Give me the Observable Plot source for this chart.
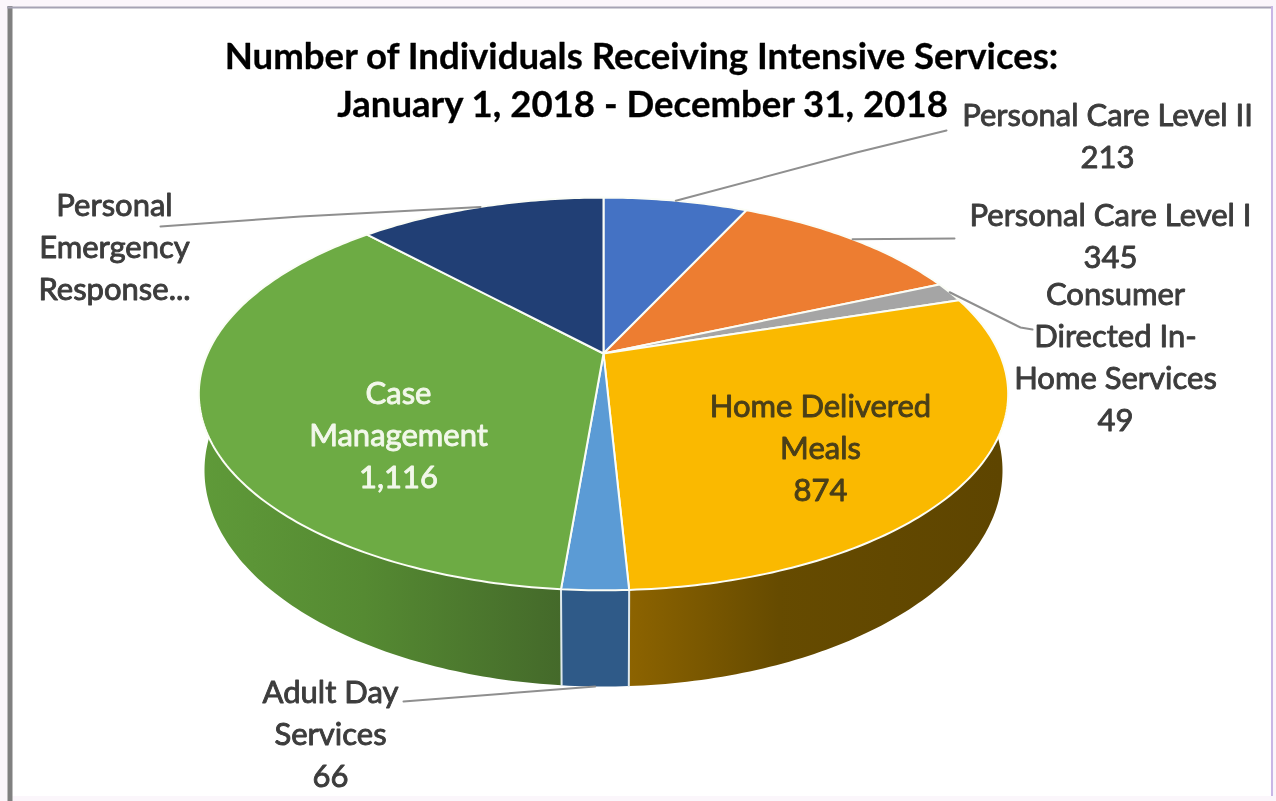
<!DOCTYPE html>
<html>
<head>
<meta charset="utf-8">
<script src="https://cdn.jsdelivr.net/npm/d3@7"></script>
<script src="https://cdn.jsdelivr.net/npm/@observablehq/plot@0.6"></script>
<style>
html,body{margin:0;padding:0;background:#fbf6fb;overflow:hidden}
svg{display:block;background:transparent;filter:blur(0.7px)}
</style>
</head>
<body>
<script>
// Data, clockwise from twelve o'clock
const names = ["Personal Care Level II","Personal Care Level I","Consumer Directed In-Home Services","Home Delivered Meals","Adult Day Services","Case Management","Personal Emergency Response..."];
const values = [213,345,49,874,66,1116,366]; // last value is not printed
const valueLabels = ["213","345","49","874","66","1,116",""];
const wrappedNames = ["Personal Care Level II","Personal Care Level I","Consumer\nDirected In-\nHome Services","Home Delivered\nMeals","Adult Day\nServices","Case\nManagement","Personal\nEmergency\nResponse..."];
const topColors = ["#4472c4","#ed7d31","#a5a5a5","#fab900","#5b9bd5","#6dab44","#213f75"];
const wallColors = ["#2d4d87","#ad5a20","#787878","url(#wallGold)","#2f5a88","url(#wallGreen)","#172c52"];
const titleLines = ["Number of Individuals Receiving Intensive Services:","January 1, 2018 - December 31, 2018"];

// 3D pie geometry (perspective projection of a unit circle, and a lower rim below it)
const cx=603, cy=353, A=396, B=188, T=0.206, warp=0.018;
const lowCy=470, lowRx=399, lowRy=216;
const maxX=A/Math.sqrt(1-T*T);
const total = d3.sum(values);
const cum = d3.cumsum(values);
const ang = f => { const a=f/total*2*Math.PI; return a+warp*(1-Math.cos(a))/2; };
function rim(a, low=false){
  const u=Math.sin(a), v=-Math.cos(a), d=1-T*v;
  const x=A*u/d, y=cy+B*v/d;
  if(!low) return {x:cx+x,y};
  const xl=x/maxX*lowRx;
  const s=v>=T?1:-1;
  return {x:cx+xl,y:lowCy+s*lowRy*Math.sqrt(Math.max(0,1-(xl/lowRx)**2))};
}
function arc(a0,a1,low){
  const n=Math.max(2,Math.ceil((a1-a0)/0.015));
  return d3.range(n+1).map(i=>rim(a0+(a1-a0)*i/n,low));
}
const slices = values.map((v,i)=>({a0:ang(cum[i]-v),a1:ang(cum[i]),i,mid:ang(cum[i]-v/2)}));
const tops = slices.map(s=>[{x:cx,y:cy},...arc(s.a0,s.a1,false)]);
const walls = slices.map(s=>[...arc(s.a0,s.a1,false),...arc(s.a0,s.a1,true).reverse()]);

// Leader lines start on the rim at each slice's middle, then run to a label elbow
const leaders = [
  {i:0, via:[{x:856,y:152},{x:946,y:130}]},
  {i:1, via:[{x:954,y:238}]},
  {i:2, via:[{x:1020,y:327},{x:1032,y:329}]},
  {i:6, via:[{x:300,y:216},{x:160,y:226}]},
  {i:4, low:true, via:[{x:403,y:701}]}
].map(l=>[rim(slices[l.i].mid,!!l.low),...l.via]);

// Label layout (centre of each block)
const labelLayout = [
  {i:0,x:1107,y:133,fill:"#3c3c3c"},
  {i:1,x:1110,y:233,fill:"#3c3c3c"},
  {i:2,x:1115,y:354,fill:"#3c3c3c"},
  {i:3,x:820,y:445,fill:"#4a3f18"},
  {i:4,x:330,y:731,fill:"#3c3c3c"},
  {i:5,x:398,y:432,fill:"#f2f8ea"},
  {i:6,x:114,y:244,fill:"#3c3c3c"}
];
const labels = labelLayout.map(l=>({...l,text:wrappedNames[l.i]+(valueLabels[l.i]?"\n"+valueLabels[l.i]:"")}));

const font="Lato, 'Open Sans', sans-serif";
const svg = Plot.plot({
  width:1276,height:801,margin:0,
  x:{domain:[0,1276],range:[0,1276],axis:null},
  y:{domain:[0,801],range:[0,801],axis:null},
  marks:[
    Plot.rect([0],{x1:()=>9,x2:()=>1271,y1:()=>7,y2:()=>796,fill:"#ffffff"}),
    Plot.ruleX([9.5],{y1:6,y2:801,stroke:"#808080",strokeWidth:5}),
    Plot.ruleY([7],{x1:7,x2:1272,stroke:"#a6a3b4",strokeWidth:2}),
    Plot.ruleX([1271.5],{y1:6,y2:796,stroke:"#c9b6e6",strokeWidth:2}),
    ...walls.map((w,i)=>Plot.line(w,{x:"x",y:"y",curve:"linear-closed",fill:wallColors[i],strokeWidth:0})),
    ...slices.filter(s=>s.i===4||s.i===5).map(s=>Plot.line([rim(s.a0,false),rim(s.a0,true)],{x:"x",y:"y",stroke:"#dfe9ee",strokeWidth:2})),
    ...tops.map((p,i)=>Plot.line(p,{x:"x",y:"y",curve:"linear-closed",fill:topColors[i],stroke:"#fbfdf6",strokeWidth:2})),
    ...leaders.map(l=>Plot.line(l,{x:"x",y:"y",stroke:"#8f8f8f",strokeWidth:2})),
    Plot.text(titleLines.map((t,i)=>({t,i})),{x:(d,i)=>i?642:641,y:(d,i)=>i?105:57,text:"t",fontFamily:font,fontWeight:700,fontSize:36.6,fill:"#000000",stroke:"#000000",strokeWidth:0.3,textAnchor:"middle"}),
    Plot.text(labels,{x:"x",y:"y",text:"text",fill:"fill",stroke:"fill",strokeWidth:0.9,fontFamily:font,fontSize:31,lineHeight:1.355,textAnchor:"middle",lineAnchor:"middle"})
  ]
});
svg.insertAdjacentHTML("afterbegin",`<defs>
<linearGradient id="wallGold" gradientUnits="userSpaceOnUse" x1="630" x2="1000" y1="0" y2="0"><stop offset="0" stop-color="#8c6300"/><stop offset="0.4" stop-color="#664b00"/><stop offset="1" stop-color="#5e4500"/></linearGradient>
<linearGradient id="wallGreen" gradientUnits="userSpaceOnUse" x1="200" x2="563" y1="0" y2="0"><stop offset="0" stop-color="#5f9a39"/><stop offset="0.45" stop-color="#558a32"/><stop offset="1" stop-color="#44692a"/></linearGradient>
</defs>`);
document.body.appendChild(svg);
</script>
</body>
</html>
